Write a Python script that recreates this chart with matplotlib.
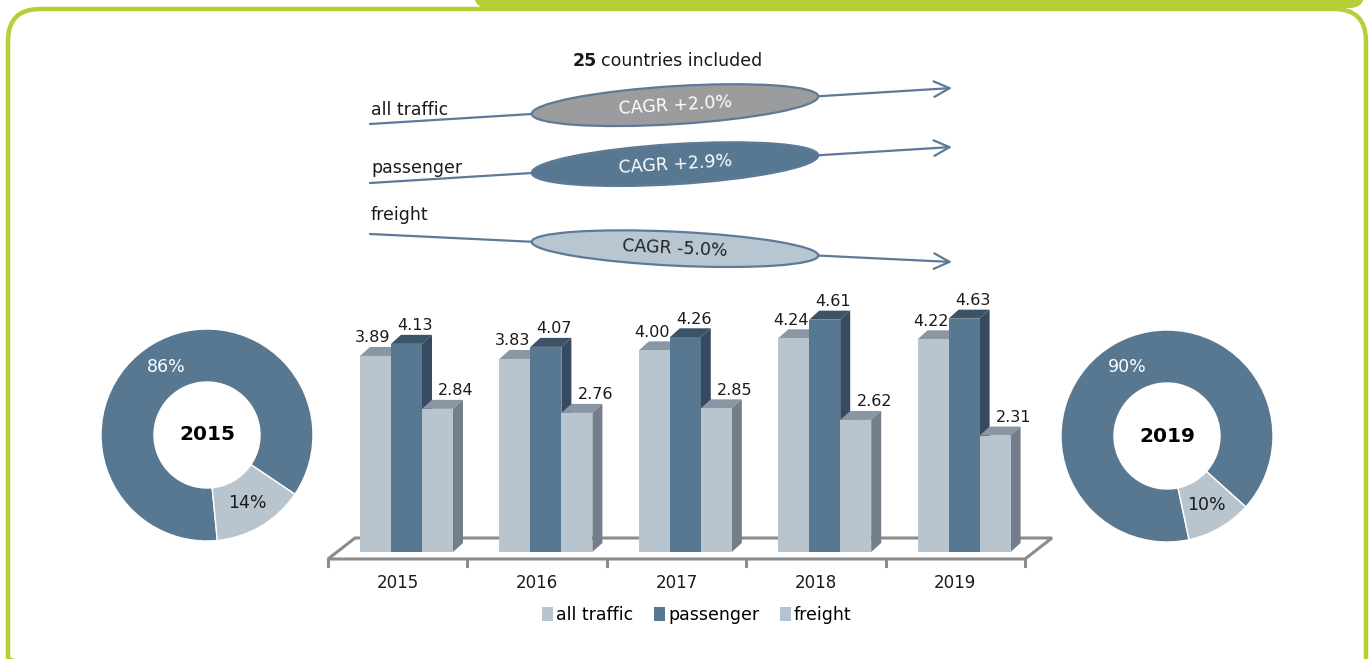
import matplotlib
matplotlib.use("Agg")
import matplotlib.pyplot as plt
from matplotlib.patches import Ellipse, Polygon, FancyBboxPatch, Rectangle
import numpy as np

plt.rcParams['font.family'] = ['DejaVu Sans']

# ---- data ----
years = ['2015', '2016', '2017', '2018', '2019']
series = ['all traffic', 'passenger', 'freight']
all_traffic = [3.89, 3.83, 4.00, 4.24, 4.22]
passenger = [4.13, 4.07, 4.26, 4.61, 4.63]
freight = [2.84, 2.76, 2.85, 2.62, 2.31]

cagr_labels = ['all traffic', 'passenger', 'freight']
cagr_texts = ['CAGR +2.0%', 'CAGR +2.9%', 'CAGR -5.0%']

donut_years = ['2015', '2019']
donut_pass = [86, 90]
donut_freight = [14, 10]

# ---- colours ----
green = '#B7CF34'
light = '#B8C5CF'
light_top = '#8997A5'
light_side = '#737E8A'
dark = '#587892'
dark_top = '#3D5368'
dark_side = '#364B5F'
fr_legend = '#B3C3D3'
line_col = '#5D7B98'
txt = '#1a1a1a'

W, H = 1370, 659
fig = plt.figure(figsize=(W / 100, H / 100), dpi=100)


def px_axes(l, t, w, h):
    return fig.add_axes([l / W, 1 - (t + h) / H, w / W, h / H])


# background / decoration axes in pixel units
bg = fig.add_axes([0, 0, 1, 1])
bg.set_xlim(0, W)
bg.set_ylim(H, 0)
bg.axis('off')

# green frame
frame = FancyBboxPatch((8, 9), 1358, 680, boxstyle='round,pad=0,rounding_size=32',
                       fill=False, ec=green, lw=3.2, zorder=1)
bg.add_patch(frame)
tab = FancyBboxPatch((474, -20), 890, 28, boxstyle='round,pad=0,rounding_size=14',
                     fc=green, ec='none', zorder=2)
bg.add_patch(tab)

# title
bg.text(597, 61, '25', ha='right', va='center', fontsize=12.5, fontweight='bold', color=txt)
bg.text(601, 61, 'countries included', ha='left', va='center', fontsize=12.5, color=txt)

# CAGR arrows
starts = [(370, 124), (370, 183), (370, 234)]
tips = [(952, 88), (952, 147), (952, 262)]
ell_fc = ['#9A9C9D', dark, '#B8C6D2']
ell_tc = ['white', 'white', '#222222']
ell_h = [38, 40, 34]
label_y = [110, 168, 215]
for i in range(3):
    (x0, y0), (x1, y1) = starts[i], tips[i]
    bg.annotate('', xy=(x1, y1), xytext=(x0, y0),
                arrowprops=dict(arrowstyle='->', color=line_col, lw=1.6,
                                mutation_scale=28, shrinkA=0, shrinkB=0), zorder=3)
    ang = np.degrees(np.arctan2(y1 - y0, x1 - x0))
    cx = 675
    cy = y0 + (y1 - y0) * (cx - x0) / (x1 - x0)
    bg.add_patch(Ellipse((cx, cy), 287, ell_h[i], angle=ang, fc=ell_fc[i],
                         ec=line_col, lw=1.6, zorder=4))
    bg.text(cx, cy, cagr_texts[i], ha='center', va='center', fontsize=12.5,
            color=ell_tc[i], rotation=-ang, rotation_mode='anchor', zorder=5)
    bg.text(371, label_y[i], cagr_labels[i], ha='left', va='center', fontsize=12.5,
            color=txt)

# ---- 3D-like bar chart ----
gap_px = 139.4
unit_px = 50.4
ax = px_axes(336.8, 280, 697, 272)
ax.set_xlim(-0.5, 4.5)
ax.set_ylim(0, 272 / unit_px)
ax.axis('off')

bw = 31 / gap_px
ddx = 10 / gap_px
ddy = 9 / unit_px

# floor
fy_front = -7 / unit_px
fy_back = 14 / unit_px
fx0 = -0.5 - 8.8 / gap_px
fx_shift = 27 / gap_px
floor = Polygon([(fx0, fy_front), (fx0 + fx_shift, fy_back), (fx0 + 5 + fx_shift, fy_back),
                 (fx0 + 5, fy_front)], closed=True, fc='white', ec='#8C8C8C', lw=2.2,
                clip_on=False, zorder=1)
ax.add_patch(floor)
for k in range(6):
    ax.plot([fx0 + k, fx0 + k], [fy_front, fy_front - 7 / unit_px], color='#8C8C8C',
            lw=2.2, clip_on=False, zorder=1)

x = np.arange(len(years))
vals = [all_traffic, passenger, freight]
fronts = [light, dark, light]
tops = [light_top, dark_top, light_top]
sides = [light_side, dark_side, light_side]
offs = [-bw, 0, bw]
lab_dx = [-2.5 / gap_px, 8.5 / gap_px, 18.5 / gap_px]

for s in range(3):
    z = 2 + s
    for i in range(len(years)):
        v = vals[s][i]
        xl = x[i] + offs[s] - bw / 2
        xr = xl + bw
        ax.add_patch(Polygon([(xl, v), (xl + ddx, v + ddy), (xr + ddx, v + ddy), (xr, v)],
                             fc=tops[s], ec='none', zorder=z, clip_on=False))
        ax.add_patch(Polygon([(xr, 0), (xr + ddx, ddy), (xr + ddx, v + ddy), (xr, v)],
                             fc=sides[s], ec='none', zorder=z, clip_on=False))
        ax.text(x[i] + offs[s] + lab_dx[s], v + ddy + 9 / unit_px, f'{v:.2f}',
                ha='center', va='center', fontsize=11.5, color=txt, zorder=10)
    ax.bar(x + offs[s], vals[s], width=bw, color=fronts[s], zorder=z, clip_on=False)

for i, yr in enumerate(years):
    ax.text(x[i] - 0.063, -31 / unit_px, yr, ha='center', va='center', fontsize=12,
            color=txt)

handles = [Rectangle((0, 0), 1, 1, fc=c, ec='none') for c in [light, dark, fr_legend]]
fig.legend(handles, series, loc='center', bbox_to_anchor=(697 / W, 1 - 615 / H), ncol=3,
           frameon=False, fontsize=12.5, handlelength=0.6, handleheight=0.9,
           handletextpad=0.2, columnspacing=1.2)

# ---- donuts ----
centers = [(207, 435), (1167, 436)]
starts_ang = [-34, -42]
for j in range(2):
    cx, cy = centers[j]
    dax = px_axes(cx - 106, cy - 106, 212, 212)
    wedges, _, autotexts = dax.pie([donut_pass[j], donut_freight[j]], colors=[dark, light],
                                   startangle=starts_ang[j], counterclock=True, radius=1,
                                   autopct='%1.0f%%', pctdistance=0.75,
                                   wedgeprops=dict(width=0.5, ec='white', lw=1),
                                   textprops=dict(fontsize=12.5))
    autotexts[0].set_color('white')
    autotexts[1].set_color(txt)
    dax.set_xlim(-1, 1)
    dax.set_ylim(-1, 1)
    dax.text(0, 0, donut_years[j], ha='center', va='center', fontsize=14.5,
             fontweight='bold', color='black')

fig.savefig('out.png', dpi=100)
